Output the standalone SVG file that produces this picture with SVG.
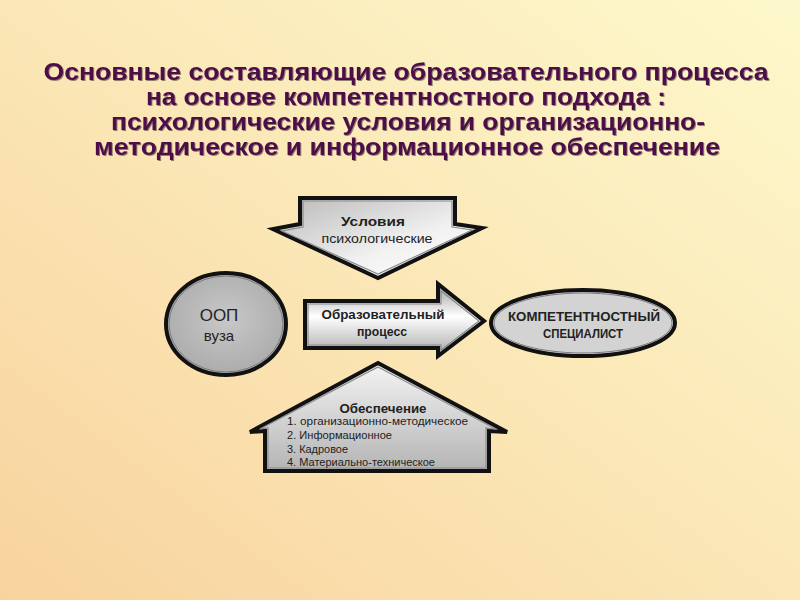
<svg xmlns="http://www.w3.org/2000/svg" width="800" height="600" viewBox="0 0 800 600">
<defs>
<linearGradient id="bg" x1="1" y1="0" x2="0" y2="1">
<stop offset="0" stop-color="#fdf8cc"/>
<stop offset="0.5" stop-color="#fbe7b6"/>
<stop offset="1" stop-color="#f8d39e"/>
</linearGradient>
<linearGradient id="gDown" x1="0" y1="0" x2="1" y2="1">
<stop offset="0" stop-color="#b8b8b8"/>
<stop offset="0.6" stop-color="#f2f2f2"/>
<stop offset="1" stop-color="#ffffff"/>
</linearGradient>
<linearGradient id="gRight" x1="0" y1="0" x2="0" y2="1">
<stop offset="0" stop-color="#9c9c9c"/>
<stop offset="0.45" stop-color="#ffffff"/>
<stop offset="1" stop-color="#a8a8a8"/>
</linearGradient>
<linearGradient id="gHouse" x1="0" y1="0" x2="0" y2="1">
<stop offset="0" stop-color="#f4f4f4"/>
<stop offset="1" stop-color="#b4b4b4"/>
</linearGradient>
<radialGradient id="gOop" cx="0.5" cy="0.45" r="0.6">
<stop offset="0" stop-color="#c8c8c8"/>
<stop offset="1" stop-color="#a9a9a9"/>
</radialGradient>
<filter id="shadow" x="-5%" y="-20%" width="110%" height="140%">
<feDropShadow dx="1" dy="1" stdDeviation="0.6" flood-color="#1e0a1a" flood-opacity="0.5"/>
</filter>
<style>
.title{font-family:"Liberation Sans",Arial,sans-serif;font-weight:bold;font-size:23px;fill:#4e0c48;text-anchor:middle}
.outer{stroke:#111;stroke-width:4;stroke-linejoin:miter}
.inner{fill:none;stroke:#8a8a8a;stroke-width:1.2;stroke-linejoin:miter}
.lbl{font-family:"Liberation Sans",Arial,sans-serif;fill:#222;text-anchor:middle}
.b{font-weight:bold}
.lst{font-family:"Liberation Sans",Arial,sans-serif;font-size:11px;fill:#222}
</style>
</defs>
<rect x="0" y="0" width="800" height="600" fill="url(#bg)"/>

<g id="title" filter="url(#shadow)">
<text class="title" x="406" y="80" textLength="725" lengthAdjust="spacingAndGlyphs">Основные составляющие образовательного процесса</text>
<text class="title" x="406" y="105" textLength="520" lengthAdjust="spacingAndGlyphs">на основе компетентностного подхода :</text>
<text class="title" x="408" y="130" textLength="594" lengthAdjust="spacingAndGlyphs">психологические условия и организационно-</text>
<text class="title" x="407" y="155" textLength="626" lengthAdjust="spacingAndGlyphs">методическое и информационное обеспечение</text>
</g>

<g id="conditions">
<polygon class="outer" fill="url(#gDown)" points="300,198 455,198 455,224 482,228 378,278 273,229 300,224"/>
<polygon class="inner" points="303,201 452,201 452,227 472,230 378,274 282,231 303,227"/>
<text class="lbl b" x="373" y="226" font-size="13" textLength="64" lengthAdjust="spacingAndGlyphs">Условия</text>
<text class="lbl" x="377" y="243" font-size="12" fill="#333" textLength="111" lengthAdjust="spacingAndGlyphs">психологические</text>
</g>

<g id="oop">
<ellipse class="outer" fill="url(#gOop)" cx="226" cy="324" rx="60" ry="51"/>
<ellipse cx="226" cy="324" rx="57" ry="48" fill="none" stroke="#7a7a7a" stroke-width="1"/>
<text class="lbl" x="219" y="321" font-size="17">ООП</text>
<text class="lbl" x="219" y="341" font-size="15" fill="#333">вуза</text>
</g>

<g id="process">
<polygon class="outer" fill="url(#gRight)" points="305,301 438,301 438,284 484,321 438,356 438,348 305,348"/>
<polygon class="inner" points="308,304 441,304 441,291 479,321 441,350 441,345 308,345"/>
<text class="lbl b" x="383" y="319" font-size="12" textLength="123" lengthAdjust="spacingAndGlyphs">Образовательный</text>
<text class="lbl b" x="382" y="336" font-size="12" textLength="50" lengthAdjust="spacingAndGlyphs">процесс</text>
</g>

<g id="specialist">
<ellipse class="outer" fill="#d3d3d3" cx="583" cy="323" rx="92" ry="33"/>
<ellipse cx="583" cy="323" rx="89" ry="30" fill="none" stroke="#7a7a7a" stroke-width="1"/>
<text class="lbl b" x="584" y="321" font-size="12" textLength="152" lengthAdjust="spacingAndGlyphs">КОМПЕТЕНТНОСТНЫЙ</text>
<text class="lbl b" x="583" y="338" font-size="12" textLength="80" lengthAdjust="spacingAndGlyphs">СПЕЦИАЛИСТ</text>
</g>

<g id="provision">
<polygon class="outer" fill="url(#gHouse)" points="378,363 507,432 489,431 489,471 265,471 265,431 250,432"/>
<polygon class="inner" points="378,367 496,429 486,428 486,468 268,468 268,428 260,429"/>
<text class="lbl b" x="383" y="413" font-size="13" textLength="87" lengthAdjust="spacingAndGlyphs">Обеспечение</text>
<text class="lst" x="287" y="425" textLength="181" lengthAdjust="spacingAndGlyphs">1. организационно-методическое</text>
<text class="lst" x="287" y="439" textLength="105" lengthAdjust="spacingAndGlyphs">2. Информационное</text>
<text class="lst" x="287" y="453" textLength="61" lengthAdjust="spacingAndGlyphs">3. Кадровое</text>
<text class="lst" x="287" y="466" textLength="148" lengthAdjust="spacingAndGlyphs">4. Материально-техническое</text>
</g>

<g id="connectors"></g>
</svg>
